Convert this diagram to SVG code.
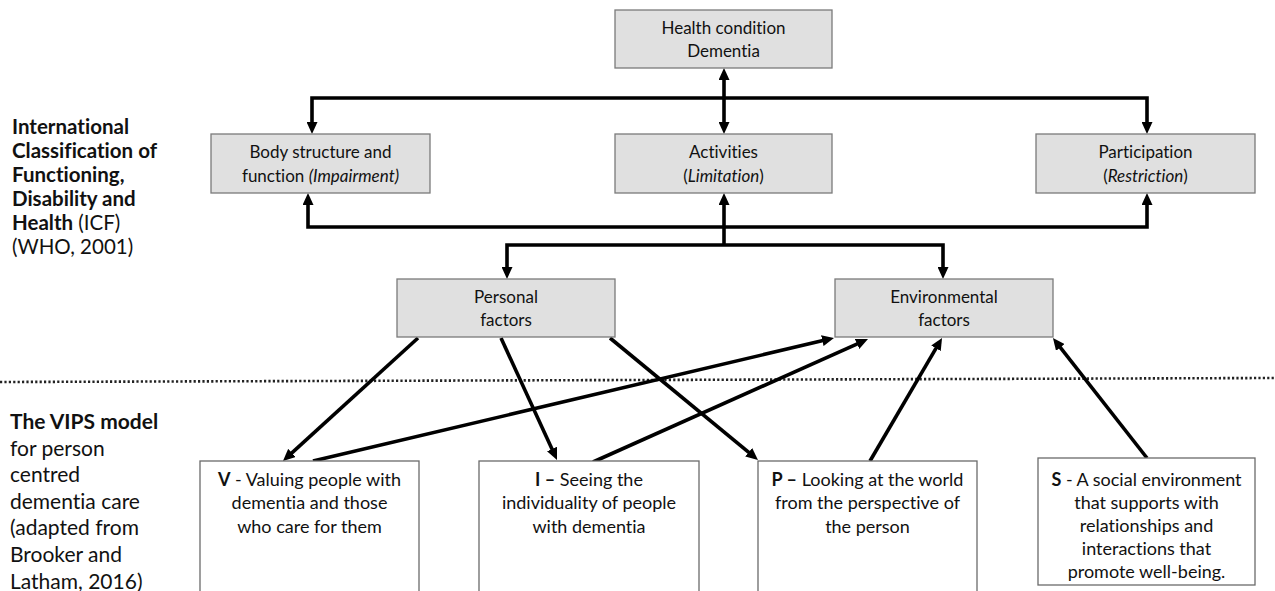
<svg xmlns="http://www.w3.org/2000/svg" width="1275" height="591" viewBox="0 0 1275 591">
<style>
  text { font-family: Lato, "Open Sans", "Liberation Sans", sans-serif; fill: #111; font-variant-ligatures: none; }
  .box { fill: #e0e0e0; stroke: #7a7a7a; stroke-width: 1.3; }
  .vbox { fill: #ffffff; stroke: #6a6a6a; stroke-width: 1.3; }
  .t17 { font-size: 17px; text-anchor: middle; }
  .t18 { font-size: 18px; text-anchor: middle; }
  .side { font-size: 20.5px; }
  .side2 { font-size: 21px; }
  .b { font-weight: bold; }
  .i { font-style: italic; }
  .con { fill: none; stroke: #000; stroke-width: 3.6; stroke-linejoin: miter; }
</style>
<defs>
  <marker id="ah" viewBox="0 0 12 11" refX="4" refY="5.5" markerWidth="12" markerHeight="11" markerUnits="userSpaceOnUse" orient="auto-start-reverse">
    <path d="M0,0 L12,5.5 L0,11 z" fill="#000"/>
  </marker>
</defs>

<g id="labels">
  <text class="side"><tspan class="b" x="12" y="134">International</tspan><tspan class="b" x="12" y="158">Classification of</tspan><tspan class="b" x="12" y="182">Functioning,</tspan><tspan class="b" x="12" y="206">Disability and</tspan><tspan x="12" y="230"><tspan class="b">Health</tspan> (ICF)</tspan><tspan x="12" y="254">(WHO, 2001)</tspan></text>
  <text class="side2"><tspan class="b" x="10" y="429">The VIPS model</tspan><tspan x="10" y="456">for person</tspan><tspan x="10" y="482">centred</tspan><tspan x="10" y="509">dementia care</tspan><tspan x="10" y="535">(adapted from</tspan><tspan x="10" y="562">Brooker and</tspan><tspan x="10" y="589">Latham, 2016)</tspan></text>
  <line x1="0" y1="382" x2="1275" y2="378" stroke="#222" stroke-width="2.6" stroke-dasharray="2.2,2.2"/>
</g>

<g id="connectors">
  <path class="con" d="M724,76 L724,126" marker-start="url(#ah)" marker-end="url(#ah)"/>
  <path class="con" d="M312,126 L312,98 L1147,98 L1147,126" marker-start="url(#ah)" marker-end="url(#ah)"/>
  <path class="con" d="M308,201 L308,227 L1147,227 L1147,201" marker-start="url(#ah)" marker-end="url(#ah)"/>
  <path class="con" d="M724,245 L724,201" marker-end="url(#ah)"/>
  <path class="con" d="M507,271 L507,245 L943,245 L943,271" marker-start="url(#ah)" marker-end="url(#ah)"/>
  <path class="con" d="M418,338 L288.9,455.6" marker-end="url(#ah)"/>
  <path class="con" d="M501,338 L553.7,452.7" marker-end="url(#ah)"/>
  <path class="con" d="M610,338 L751.8,454.9" marker-end="url(#ah)"/>
  <path class="con" d="M313,461 L826.2,339.8" marker-end="url(#ah)"/>
  <path class="con" d="M593,462 L860.7,342.3" marker-end="url(#ah)"/>
  <path class="con" d="M870,461 L938,344.9" marker-end="url(#ah)"/>
  <path class="con" d="M1147,458 L1057.9,344.3" marker-end="url(#ah)"/>
</g>

<g id="health">
  <rect class="box" x="615" y="10" width="217" height="58"/>
  <text class="t17"><tspan x="723.5" y="34">Health condition</tspan><tspan x="723.5" y="57">Dementia</tspan></text>
</g>
<g id="body">
  <rect class="box" x="211" y="134" width="219" height="59"/>
  <text class="t17"><tspan x="320.5" y="158">Body structure and</tspan><tspan x="320.5" y="182">function <tspan class="i">(Impairment)</tspan></tspan></text>
</g>
<g id="activities">
  <rect class="box" x="615" y="134" width="217" height="59"/>
  <text class="t17"><tspan x="723.5" y="158">Activities</tspan><tspan x="723.5" y="182">(<tspan class="i">Limitation</tspan>)</tspan></text>
</g>
<g id="participation">
  <rect class="box" x="1036" y="134" width="219" height="59"/>
  <text class="t17"><tspan x="1145.5" y="158">Participation</tspan><tspan x="1145.5" y="182">(<tspan class="i">Restriction</tspan>)</tspan></text>
</g>
<g id="personal">
  <rect class="box" x="397" y="279" width="218" height="58"/>
  <text class="t17"><tspan x="506" y="303">Personal</tspan><tspan x="506" y="326">factors</tspan></text>
</g>
<g id="environmental">
  <rect class="box" x="835" y="279" width="218" height="58"/>
  <text class="t17"><tspan x="944" y="303">Environmental</tspan><tspan x="944" y="326">factors</tspan></text>
</g>
<g id="v">
  <rect class="vbox" x="200" y="461" width="219" height="140"/>
  <text class="t18"><tspan x="309.5" y="486"><tspan class="b">V</tspan> - Valuing people with</tspan><tspan x="309.5" y="509">dementia and those</tspan><tspan x="309.5" y="533">who care for them</tspan></text>
</g>
<g id="i">
  <rect class="vbox" x="479" y="461" width="220" height="140"/>
  <text class="t18"><tspan x="589" y="486"><tspan class="b">I –</tspan> Seeing the</tspan><tspan x="589" y="509">individuality of people</tspan><tspan x="589" y="533">with dementia</tspan></text>
</g>
<g id="p">
  <rect class="vbox" x="758" y="461" width="219" height="140"/>
  <text class="t18"><tspan x="867.5" y="486"><tspan class="b">P –</tspan> Looking at the world</tspan><tspan x="867.5" y="509">from the perspective of</tspan><tspan x="867.5" y="533">the person</tspan></text>
</g>
<g id="s">
  <rect class="vbox" x="1038" y="458" width="217" height="127"/>
  <text class="t18"><tspan x="1146.5" y="486"><tspan class="b">S</tspan> - A social environment</tspan><tspan x="1146.5" y="509">that supports with</tspan><tspan x="1146.5" y="532">relationships and</tspan><tspan x="1146.5" y="555">interactions that</tspan><tspan x="1146.5" y="578">promote well-being.</tspan></text>
</g>
</svg>
